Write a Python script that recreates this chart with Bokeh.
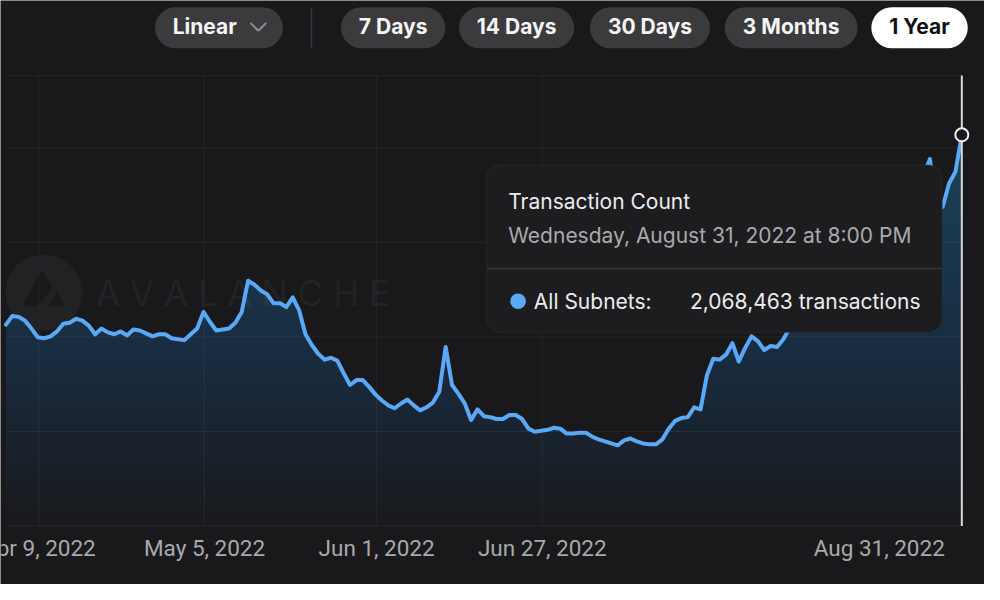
import numpy as np
import pandas as pd
from bokeh.plotting import figure
from bokeh.models import Range1d, BoxAnnotation, Label, Arrow, PolyAnnotation
from bokeh.core.properties import value
from bokeh.embed import file_html
from bokeh.resources import INLINE

# ---------------- data ----------------
dates = pd.date_range("2022-04-03 20:00", periods=151, freq="D")
tx_thousands = [
    1065, 1111, 1106, 1086, 1044, 998,
    993, 1003, 1029, 1070, 1075, 1096, 1086, 1060, 1014, 1044,
    1024, 1014, 1029, 1008, 1039, 1034, 1019, 1003, 1014, 1014,
    993, 988, 983, 1014, 1044, 1132, 1080, 1034, 1039, 1044,
    1075, 1132, 1297, 1276, 1245, 1225, 1178, 1178, 1158, 1209,
    1142, 1014, 957, 911, 880, 890, 875, 808, 746, 772,
    772, 736, 695, 664, 638, 623, 648, 669, 638, 612,
    628, 653, 710, 947, 746, 700, 648, 561, 617, 581,
    576, 566, 566, 587, 587, 566, 515, 499, 504, 509,
    520, 515, 489, 489, 494, 494, 473, 458, 448, 437,
    427, 453, 463, 448, 437, 432, 432, 458, 515, 556,
    571, 576, 628, 617, 797, 885, 880, 906, 967, 870,
    942, 1003, 978, 931, 952, 947, 988, 1050, 1091, 1142,
    1127, 1225, 1255, 1317, 1302, 1389, 1430, 1492, 1461, 1544,
    1585, 1605, 1677, 1646, 1724, 1749, 1780, 1821, 1852, 1940,
    1677, 1688, 1811, 1873, 2068.463,
]
transactions = np.rint(np.array(tx_thousands) * 1000).astype(int)

grid_values = [0, 500_000, 1_000_000, 1_500_000, 2_000_000, 2_382_000]
grid_dates = pd.to_datetime(["2022-04-09", "2022-05-05", "2022-06-01", "2022-06-27"])
tick_labels = ["Apr 9, 2022", "May 5, 2022", "Jun 1, 2022", "Jun 27, 2022"]
last_tick_label = "Aug 31, 2022"
range_buttons = ["7 Days", "14 Days", "30 Days", "3 Months", "1 Year"]
active_button = "1 Year"
scale_button = "Linear"
series_name = "All Subnets"
chart_title = "Transaction Count"

# ---------------- layout / style ----------------
W, H = 984, 584
SX, SY = W / 1000, H / 600
BG = "#19191b"
BLUE = "#5aa9f6"
GRID = "#262629"
PILL = "#3b3b3e"
PX_PER_DAY = 6.476          # reference pixels per day
Y_PER_PX = 5145.0           # transactions per reference pixel
FONT_UI = "Inter"


def sx(x):
    return x * SX


def sy(y):
    return (600 - y) * SY


x_start = pd.Timestamp("2022-04-09") - pd.Timedelta(days=39 / PX_PER_DAY)
x_end = pd.Timestamp("2022-04-09") + pd.Timedelta(days=(1000 - 39) / PX_PER_DAY)
y_start = -(600 - 540) * Y_PER_PX
y_end = 540 * Y_PER_PX

p = figure(width=W, height=H, x_range=Range1d(x_start, x_end),
           y_range=Range1d(y_start, y_end), toolbar_location=None,
           output_backend="svg", x_axis_location=None, y_axis_location=None,
           background_fill_color=BG, border_fill_color=BG,
           outline_line_color=None, min_border=0, min_border_left=0,
           min_border_right=0, min_border_top=0, min_border_bottom=0)
p.grid.visible = False


def box(l, r, t, b, **kw):
    p.add_layout(BoxAnnotation(left=sx(l), right=sx(r), top=min(sy(t), H), bottom=sy(b),
                               left_units="screen", right_units="screen",
                               top_units="screen", bottom_units="screen", **kw))


def label(x, y, text, size, color, align="left", bold=False, **kw):
    p.add_layout(Label(x=sx(x), y=sy(y), x_units="screen", y_units="screen",
                       text=text, text_font=FONT_UI, text_font_size=size,
                       text_font_style="bold" if bold else "normal",
                       text_color=color, text_align=align, text_baseline="middle", **kw))


# watermark (behind everything)
box(5, 83, 261, 339, border_radius=38, fill_color="#222225", fill_alpha=1,
    line_color=None, level="underlay")
p.add_layout(PolyAnnotation(xs=[sx(22), sx(42), sx(53), sx(37)],
                            ys=[sy(314), sy(277), sy(295), sy(314)],
                            xs_units="screen", ys_units="screen",
                            fill_color=BG, fill_alpha=1, line_color=None, level="underlay"))
p.add_layout(PolyAnnotation(xs=[sx(49), sx(66), sx(57.5)],
                            ys=[sy(314), sy(314), sy(299)],
                            xs_units="screen", ys_units="screen",
                            fill_color=BG, fill_alpha=1, line_color=None, level="underlay"))
label(97, 300, "A V A L A N C H E", "35px", "#232326", level="underlay")

# grid lines
for g in grid_values:
    p.segment(x0=[dates[0]], y0=[g], x1=[dates[-1]], y1=[g], line_color=GRID, line_width=1)
p.segment(x0=grid_dates, y0=np.zeros(len(grid_dates)), x1=grid_dates,
          y1=np.full(len(grid_dates), grid_values[-1]), line_color=GRID, line_width=1)

# gradient area (stacked translucent layers)
for lvl in np.arange(0, 2_100_000, 50_000):
    p.varea(x=dates, y1=np.full(len(dates), lvl), y2=np.maximum(transactions, lvl),
            fill_color="#5078b4", fill_alpha=0.015)

p.line(dates, transactions, line_color=BLUE, line_width=4, line_join="round", line_cap="round")

# crosshair + hover point
p.segment(x0=[dates[-1]], y0=[0], x1=[dates[-1]], y1=[grid_values[-1]],
          line_color="#d9d9db", line_width=2)
p.scatter(x=[dates[-1]], y=[transactions[-1]], size=13, fill_color=BG,
          line_color="#f2f2f2", line_width=2)

# x tick labels
label_y = -(562 - 540) * Y_PER_PX
p.text(x=grid_dates, y=np.full(len(grid_dates), label_y), text=tick_labels,
       text_align="center", text_baseline="middle", text_font=value("Roboto"),
       text_font_size="22.5px", text_color="#a9a9ad")
p.text(x=[dates[-1]], y=[label_y], text=[last_tick_label], x_offset=-17,
       text_align="right", text_baseline="middle", text_font=value("Roboto"),
       text_font_size="22.5px", text_color="#a9a9ad")

# top controls
box(157, 287, 7, 49, border_radius=21, fill_color=PILL, fill_alpha=1, line_color=None)
label(175, 27, scale_button, "21px", "#f5f5f5", bold=True)
for (x0, y0, x1, y1) in [(254, 23, 262, 31), (262, 31, 270, 23)]:
    p.add_layout(Arrow(x_start=sx(x0), y_start=sy(y0), x_end=sx(x1), y_end=sy(y1),
                       start_units="screen", end_units="screen", end=None,
                       line_color="#8e8e93", line_width=2))
box(315.3, 316.8, 8, 49, fill_color="#36363a", fill_alpha=1, line_color=None)

button_edges = [(346, 452), (466, 583), (599, 721), (736, 871), (885, 983)]
for name, (l, r) in zip(range_buttons, button_edges):
    is_active = name == active_button
    box(l, r, 7, 49, border_radius=21, fill_color="#ffffff" if is_active else PILL,
        fill_alpha=1, line_color=None)
    label((l + r) / 2, 27, name, "21px", "#111113" if is_active else "#f5f5f5",
          align="center", bold=True)

# tooltip
box(494, 957, 169, 341, border_radius=14, fill_color="#1d1d1f", fill_alpha=1,
    line_color="#38383b", line_width=1.5)
box(494.5, 956.5, 274.5, 276, fill_color="#38383b", fill_alpha=1, line_color=None)
label(516, 207, chart_title, "21px", "#ececee")
when = dates[-1].strftime("%A, %B %-d, %Y at %-I:%M %p")
label(516, 241, when, "21px", "#aaaaae")
box(518, 534, 301, 317, border_radius=8, fill_color=BLUE, fill_alpha=1, line_color=None)
label(542, 309, series_name + ":", "21px", "#ececee")
label(935, 309, f"{transactions[-1]:,} transactions", "21px", "#ececee", align="right")

open("out.html", "w").write(file_html(p, INLINE))
